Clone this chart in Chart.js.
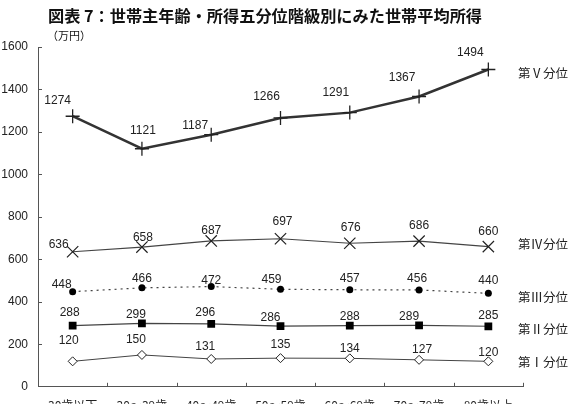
<!DOCTYPE html>
<html><head><meta charset="utf-8">
<script src="https://cdn.jsdelivr.net/npm/chart.js@4.4.1/dist/chart.umd.min.js"></script>
<style>html,body{margin:0;padding:0;background:#fff;overflow:hidden}#wrap{width:573px;height:404px;position:relative}</style>
</head><body><div id="wrap"><canvas id="c" width="573" height="404"></canvas></div>
<script>
const titleText = "図表 7：世帯主年齢・所得五分位階級別にみた世帯平均所得";
const unitText = "（万円）";
const categories = ["30歳以下","30～39歳","40～49歳","50～59歳","60～69歳","70～79歳","80歳以上"];
const quintile5 = [1274,1121,1187,1266,1291,1367,1494];
const quintile4 = [636,658,687,697,676,686,660];
const quintile3 = [448,466,472,459,457,456,440];
const quintile2 = [288,299,296,286,288,289,285];
const quintile1 = [120,150,131,135,134,127,120];
const seriesNames = ["第Ⅴ分位","第Ⅳ分位","第Ⅲ分位","第Ⅱ分位","第Ⅰ分位"];
const yMin = 0, yMax = 1600, yStep = 200;

// label nudges (style only, px relative to marker)
const labelNudge = [
  [[-15,-16],[1,-18],[-16,-9],[-14,-21],[-14,-20],[-17,-19],[-18,-17]],
  [[-14,-7],[1,-9],[0,-10],[2,-17],[1,-16],[0,-15],[0,-15]],
  [[-11,-7],[0,-9],[0,-6],[-9,-10],[0,-11],[-2,-11],[0,-13]],
  [[-3,-13],[-6,-9],[-6,-11],[-10,-8],[0,-9],[-10,-9],[0,-11]],
  [[-4,-21],[-6,-15],[-6,-12],[0,-13],[0,-10],[3,-10],[0,-9]]
];
const nameNudgeY = [4,-2,4,3,1];

const NUM_FONT = '12px "Liberation Sans", Arial, sans-serif';
const CJK = '"Noto Sans CJK JP", sans-serif';

const decor = {
  id: 'decor',
  afterDraw(chart) {
    const ctx = chart.ctx, ca = chart.chartArea;
    const ys = chart.scales.y;
    ctx.save();
    ctx.fillStyle = '#111';
    ctx.font = 'bold 16.2px ' + CJK;
    ctx.textAlign = 'center'; ctx.textBaseline = 'middle';
    ctx.fillText(titleText, 265, 16);
    ctx.font = '11px ' + CJK;
    ctx.textAlign = 'left';
    ctx.fillText(unitText, 47, 36);
    // inward ticks
    ctx.strokeStyle = '#555'; ctx.lineWidth = 1;
    ctx.beginPath();
    const n = categories.length;
    const step = (ca.right - ca.left) / n;
    for (let i = 1; i <= n; i++) {
      const x = Math.round(ca.left + step * i) + 0.5;
      ctx.moveTo(x, ca.bottom); ctx.lineTo(x, ca.bottom - 4);
    }
    for (let v = yMin + yStep; v <= yMax; v += yStep) {
      const y = Math.round(ys.getPixelForValue(v)) + 0.5;
      ctx.moveTo(ca.left, y); ctx.lineTo(ca.left + 4, y);
    }
    ctx.stroke();
    // value labels
    ctx.font = NUM_FONT; ctx.fillStyle = '#222';
    ctx.textAlign = 'center'; ctx.textBaseline = 'middle';
    chart.data.datasets.forEach((ds, di) => {
      const meta = chart.getDatasetMeta(di);
      meta.data.forEach((pt, i) => {
        const nd = labelNudge[di][i];
        ctx.fillText(String(ds.data[i]), pt.x + nd[0], pt.y + nd[1]);
      });
      const last = meta.data[meta.data.length - 1];
      ctx.save();
      ctx.font = '12.5px ' + CJK; ctx.textAlign = 'left';
      ctx.fillText(seriesNames[di], ca.right - 5, last.y + nameNudgeY[di]);
      ctx.restore();
    });
    ctx.restore();
  }
};

const lineCol = '#333';
new Chart(document.getElementById('c'), {
  type: 'line',
  data: {
    labels: categories,
    datasets: [
      { label: seriesNames[0], data: quintile5, borderColor: lineCol, borderWidth: 2.5,
        pointStyle: 'cross', pointRadius: 7, pointBorderWidth: 1.3, pointBorderColor: '#222', pointBackgroundColor: '#222' },
      { label: seriesNames[1], data: quintile4, borderColor: '#444', borderWidth: 1.2,
        pointStyle: 'crossRot', pointRadius: 8, pointBorderWidth: 1.2, pointBorderColor: '#222', pointBackgroundColor: '#222' },
      { label: seriesNames[2], data: quintile3, borderColor: '#444', borderWidth: 1.2, borderDash: [2,4],
        pointStyle: 'circle', pointRadius: 3.5, pointBorderWidth: 0, pointBackgroundColor: '#000' },
      { label: seriesNames[3], data: quintile2, borderColor: '#444', borderWidth: 1.2,
        pointStyle: 'rect', pointRadius: 5.5, pointBorderWidth: 0, pointBackgroundColor: '#000' },
      { label: seriesNames[4], data: quintile1, borderColor: '#444', borderWidth: 1,
        pointStyle: 'rectRot', pointRadius: 4.5, pointBorderWidth: 1, pointBorderColor: '#222', pointBackgroundColor: '#fff' }
    ]
  },
  options: {
    responsive: false, animation: false, devicePixelRatio: 1,
    layout: { padding: { top: 47, right: 50, left: 0, bottom: 0 } },
    plugins: { legend: { display: false }, tooltip: { enabled: false }, title: { display: false } },
    elements: { line: { tension: 0 } },
    scales: {
      x: {
        offset: true,
        grid: { display: true, drawOnChartArea: false, drawTicks: false, offset: true, color: 'rgba(0,0,0,0)' },
        border: { display: true, color: '#555', width: 1 },
        ticks: { padding: 11, color: '#222', font: { family: 'Noto Sans CJK JP', size: 12 }, maxRotation: 0, autoSkip: false },
        afterFit(s) { s.height = 17; }
      },
      y: {
        min: yMin, max: yMax,
        grid: { display: true, drawOnChartArea: false, drawTicks: false, color: 'rgba(0,0,0,0)' },
        border: { display: true, color: '#555', width: 1 },
        ticks: { stepSize: yStep, padding: 10, color: '#222', font: { family: 'Liberation Sans', size: 12 },
          callback: (v) => String(v) },
        afterFit(s) { s.width = 38; }
      }
    }
  },
  plugins: [decor]
});
</script></body></html>
